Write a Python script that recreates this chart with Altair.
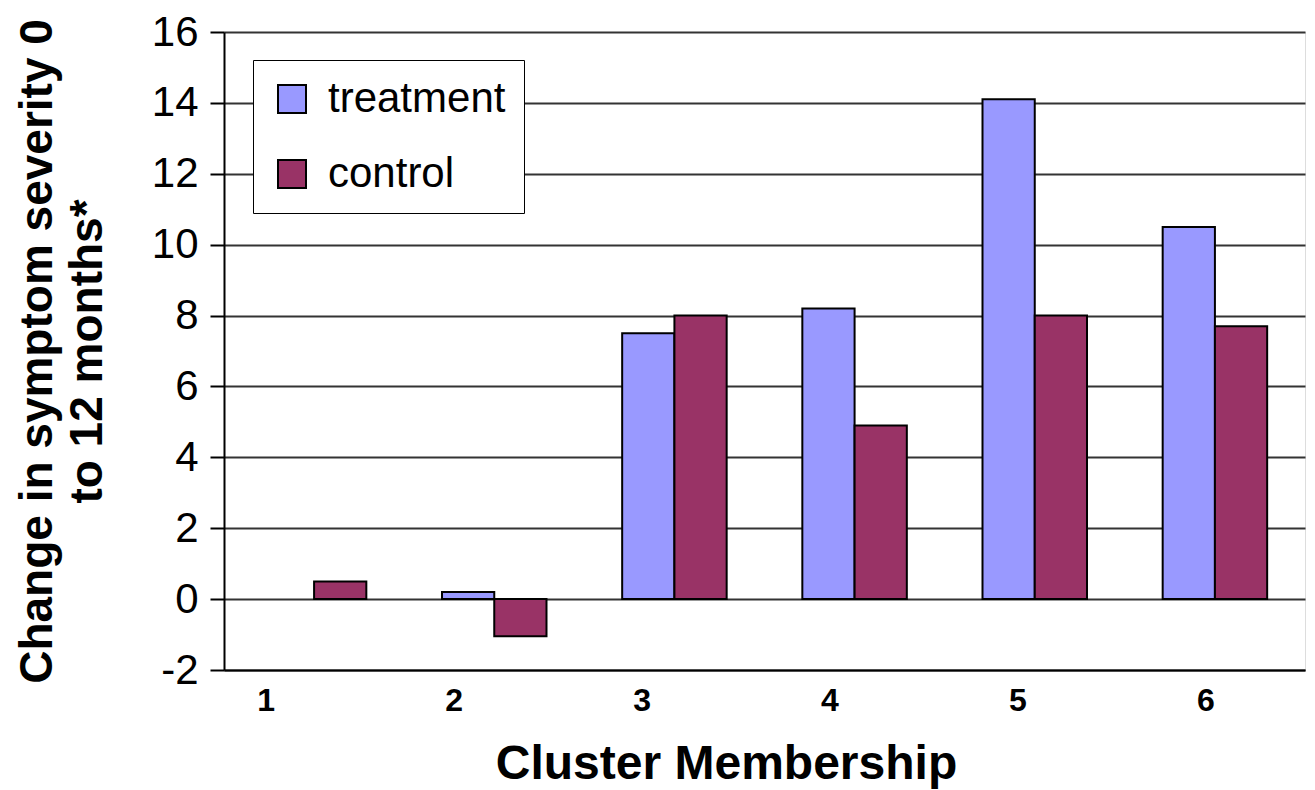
import altair as alt
import pandas as pd

# Mean change in symptom severity (0 to 12 months) by cluster and arm
clusters = ["1", "2", "3", "4", "5", "6"]
treatment = [None, 0.2, 7.5, 8.2, 14.1, 10.5]
control = [0.5, -1.05, 8.0, 4.9, 8.0, 7.7]
groups = ["treatment", "control"]
colors = ["#9999FF", "#993366"]

rows = []
for c, t, k in zip(clusters, treatment, control):
    rows.append({"cluster": c, "group": "treatment", "change": t})
    rows.append({"cluster": c, "group": "control", "change": k})
df = pd.DataFrame(rows).dropna()

FONT = "Liberation Sans"

bars = alt.Chart(df).mark_bar(stroke="black", strokeWidth=2).encode(
    x=alt.X(
        "cluster:N",
        sort=clusters,
        scale=alt.Scale(paddingInner=0.42, paddingOuter=0.21),
        axis=alt.Axis(
            title="Cluster Membership",
            titleFont=FONT,
            titleFontSize=48,
            titleFontWeight="bold",
            titleColor="black",
            titlePadding=24,
            titleX=502,
            titleAnchor="start",
            titleAlign="center",
            labelAngle=0,
            labelFont=FONT,
            labelFontSize=32,
            labelFontWeight="bold",
            labelColor="black",
            labelPadding=15,
            labelOffset=alt.ExprRef("-48 + (toNumber(datum.value) - 1) * 7.8"),
            ticks=False,
            domainColor="black",
            domainWidth=2,
        ),
    ),
    xOffset=alt.XOffset(
        "group:N",
        sort=groups,
        scale=alt.Scale(paddingInner=0, paddingOuter=0),
    ),
    y=alt.Y(
        "change:Q",
        scale=alt.Scale(domain=[-2, 16], nice=False, zero=False),
        axis=alt.Axis(
            title=["Change in symptom severity 0", "to 12 months*"],
            titleFont=FONT,
            titleFontSize=46,
            titleFontWeight="bold",
            titleColor="black",
            titleLineHeight=50,
            titlePadding=40,
            values=list(range(-2, 17, 2)),
            labelExpr="replace(datum.label, '\u2212', '-')",
            labelFont=FONT,
            labelFontSize=42,
            labelColor="black",
            labelPadding=12,
            tickSize=14,
            tickWidth=2,
            tickColor="black",
            domainColor="black",
            domainWidth=2,
            grid=True,
            gridColor="#333333",
            gridWidth=2,
        ),
    ),
    color=alt.Color(
        "group:N",
        sort=groups,
        scale=alt.Scale(domain=groups, range=colors),
        legend=alt.Legend(
            title=None,
            orient="none",
            legendX=29,
            legendY=28,
            padding=18,
            strokeColor="black",
            fillColor="white",
            symbolType="square",
            symbolSize=784,
            symbolStrokeColor="black",
            symbolStrokeWidth=2,
            symbolOpacity=1,
            labelFont=FONT,
            labelFontSize=42,
            labelColor="black",
            labelOffset=15,
            labelLimit=0,
            rowPadding=33,
        ),
    ),
)

chart = bars.properties(
    width=1081,
    height=638,
    autosize=alt.AutoSizeParams(type="none"),
    padding={"left": 224, "top": 32, "right": 10, "bottom": 120},
).configure_view(
    stroke="black",
    strokeWidth=2,
).configure(
    background="white",
)

chart.save("out.html", embed_options={"renderer": "svg", "actions": False})
